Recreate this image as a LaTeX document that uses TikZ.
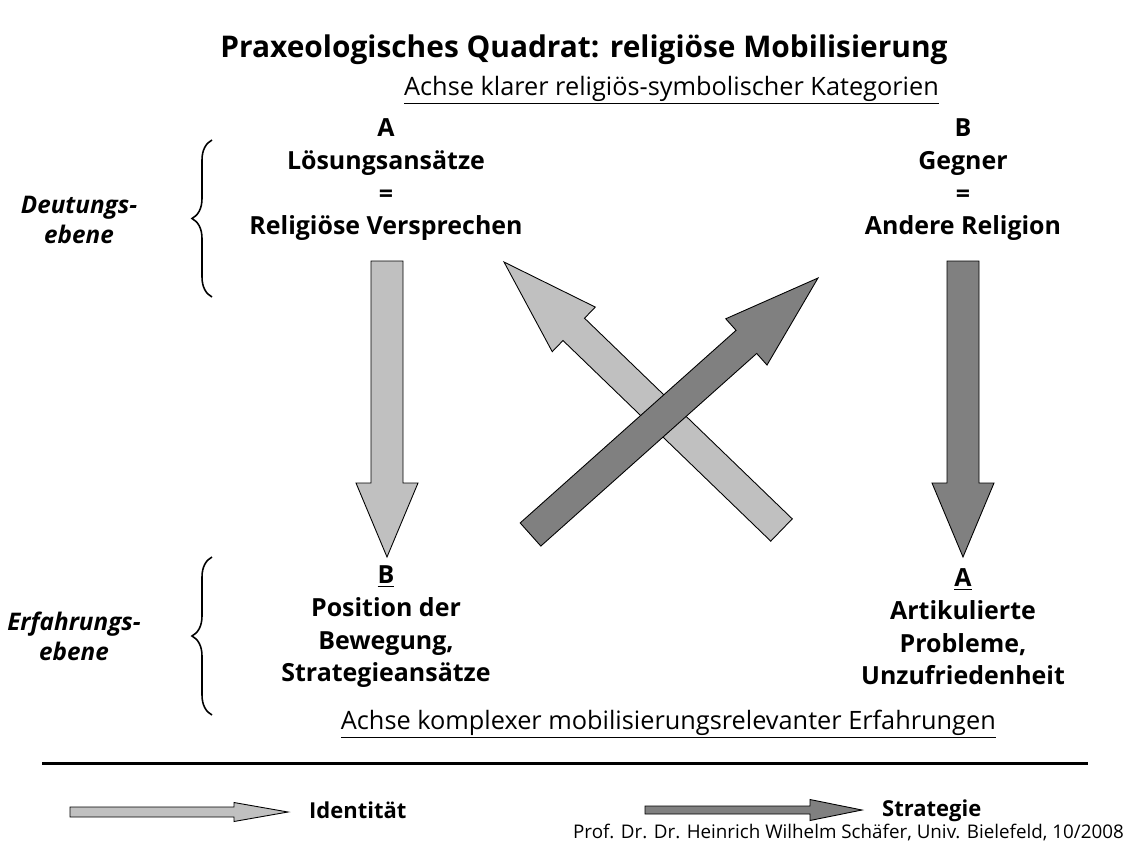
\documentclass[tikz,border=0pt]{standalone}
\usepackage{fontspec}
\setmainfont{Open Sans}
\usetikzlibrary{calc,positioning,decorations.pathreplacing}
\definecolor{qlight}{HTML}{C0C0C0}
\definecolor{qdark}{HTML}{808080}
\tikzset{
  hd/.style={align=center, font=\bfseries\fontsize{14.2}{18.6}\selectfont},
  ax/.style={anchor=base east, font=\fontsize{14.4}{17}\selectfont},
  lv/.style={align=center, font=\bfseries\itshape\fontsize{13.8}{17.2}\selectfont},
  lgd/.style={anchor=west, text height=1.6ex, text depth=0.3ex, font=\bfseries\fontsize{12.5}{15}\selectfont},
  brc/.style={decorate, decoration={brace, amplitude=0.4cm}, line width=0.9pt},
  pl/.style={fill=qlight, draw=black, line width=0.5pt},
  pd/.style={fill=qdark, draw=black, line width=0.5pt},
}
% block arrow: [style]{tail}{tip}{shaft half width}{head half width}{head length}
\newcommand{\qarrow}[6][pl]{%
  \coordinate (neck) at ($(#3)!#6!(#2)$);
  \filldraw[#1] ($(#2)!#4!90:(#3)$) -- ($(neck)!#4!90:(#3)$) -- ($(neck)!#5!90:(#3)$)
    -- (#3) -- ($(neck)!#5!-90:(#3)$) -- ($(neck)!#4!-90:(#3)$) -- ($(#2)!#4!-90:(#3)$) -- cycle;
}
\begin{document}
\begin{tikzpicture}[x=0.02cm, y=-0.02cm]
  \useasboundingbox (0,0) rectangle (1139,845);
  \node[font=\bfseries\fontsize{17}{20}\selectfont] (title) at (584,50) {Praxeologisches Quadrat: religiöse Mobilisierung};
  \node[ax] (axtop) at (945,95) {\underline{Achse klarer religiös-symbolischer Kategorien}};
  \node[ax] (axbot) at (1002,729) {\underline{Achse komplexer mobilisierungsrelevanter Erfahrungen}};
  % quadrants
  \node[hd] (ta) at (386,180) {A\\Lösungsansätze\\=\\Religiöse Versprechen};
  \node[hd] (tb) at (963,180) {B\\Gegner\\=\\Andere Religion};
  \node[hd] (bb) at (386,627) {\underline{B}\\Position der\\Bewegung,\\Strategieansätze};
  \node[hd] (ba) at (963,627) {\underline{A}\\Artikulierte\\Probleme,\\Unzufriedenheit};
  % levels
  \node[lv] (deut) at (79,220) {Deutungs-\\ebene};
  \node[lv] (erf) at (74,636) {Erfahrungs-\\ebene};
  \draw[brc] (212,297) -- (212,140);
  \draw[brc] (212,715) -- (212,557);
  % arrows
  \coordinate (v1t) at (387,261); \coordinate (v1h) at (387,557);
  \coordinate (v2t) at (963,261); \coordinate (v2h) at (963,557);
  \coordinate (d1t) at (781.5,530); \coordinate (d1h) at (504,262);
  \coordinate (d2t) at (530.5,534.5); \coordinate (d2h) at (818,278);
  \qarrow[pl]{v1t}{v1h}{0.32cm}{0.62cm}{1.48cm}
  \qarrow[pd]{v2t}{v2h}{0.32cm}{0.62cm}{1.48cm}
  \qarrow[pl]{d1t}{d1h}{0.31cm}{0.62cm}{1.94cm}
  \qarrow[pd]{d2t}{d2h}{0.31cm}{0.62cm}{1.92cm}
  % legend
  \draw[line width=1.7pt] (42,763) -- (1088,763);
  \coordinate (l1t) at (70,812); \coordinate (l1h) at (288,812);
  \coordinate (l2t) at (645,810); \coordinate (l2h) at (862,810);
  \qarrow[pl]{l1t}{l1h}{0.1cm}{0.19cm}{1.08cm}
  \qarrow[pd]{l2t}{l2h}{0.08cm}{0.21cm}{1.04cm}
  \node[lgd, right=0.3cm of l1h] (ident) {Identität};
  \node[lgd, right=0.28cm of l2h] (strat) {Strategie};
  \node[font=\fontsize{10.7}{12}\selectfont, anchor=base east] (credit) at (1130,838) {Prof. Dr. Dr. Heinrich Wilhelm Schäfer, Univ. Bielefeld, 10/2008};
\end{tikzpicture}
\end{document}
